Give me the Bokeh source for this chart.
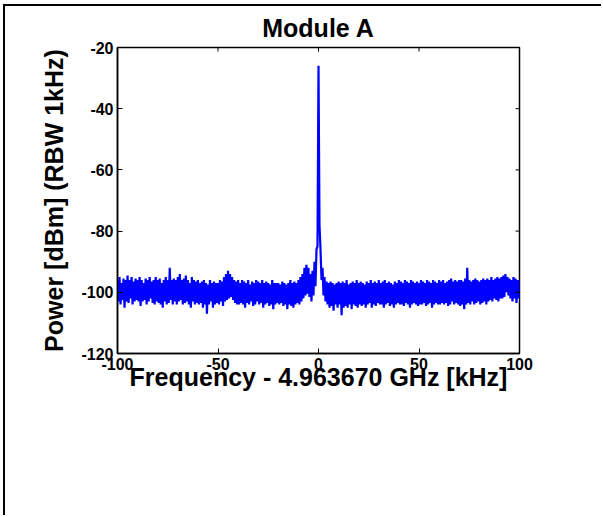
import math
from bokeh.plotting import figure
from bokeh.models import FixedTicker, Range1d, ColumnDataSource
from bokeh.embed import file_html
from bokeh.resources import INLINE

title_text = "Module A"
x_label = "Frequency - 4.963670 GHz [kHz]"
y_label = "Power [dBm] (RBW 1kHz)"
x_ticks = [-100, -50, 0, 50, 100]
y_ticks = [-120, -100, -80, -60, -40, -20]
x_tick_labels = ["-100", "-50", "0", "50", "100"]
y_tick_labels = ["-120", "-100", "-80", "-60", "-40", "-20"]
x_min, x_max = -100, 100
y_min, y_max = -120, -20

# frequency offsets in kHz (one sample per kHz, upper and lower envelope of the trace)
freq_khz = list(range(-100, 101))

power_hi = (
    [-96, -95, -97, -95.5, -96, -94.5, -96, -95, -96.5, -95.5]
    + [-96, -95, -96, -97, -95.5, -96, -95, -96.5, -96, -95]
    + [-96, -95.5, -97, -96, -95, -96, -92, -96, -95.5, -96]
    + [-95, -94, -96, -95.5, -94.5, -96, -97, -95, -96, -96.5]
    + [-96, -97, -96.5, -96, -97, -97.5, -96, -97, -96.5, -97]
    + [-97, -96, -96.5, -95, -94, -93, -94, -95, -96, -96.5]
    + [-96, -97, -96, -96.5, -97, -96, -97.5, -96.5, -97, -96]
    + [-96.5, -97, -96, -97, -96.5, -97, -97.5, -96, -97, -97]
    + [-97, -97.5, -96.5, -97, -97.5, -97, -96, -97, -96.5, -97]
    + [-96, -95, -94, -92, -91, -92, -94, -93, -90, -86]
    + [-26]
    + [-86, -92, -95, -96.5, -97, -96.5, -97, -97.5, -97, -96.5]
    + [-97, -96.5, -97, -96, -97.5, -97, -96.5, -97, -96, -97]
    + [-96.5, -97, -97.5, -96.5, -97, -96, -97, -96.5, -97, -96]
    + [-97, -96.5, -96, -97, -96.5, -97, -97.5, -96.5, -97, -96]
    + [-96.5, -97, -96, -96.5, -97, -96, -96.5, -97, -96.5, -97]
    + [-96, -96.5, -97, -96, -96.5, -97, -96, -96.5, -97, -96]
    + [-96.5, -96, -97, -96.5, -96, -95.5, -96.5, -96, -96.5, -96]
    + [-96, -96.5, -95.5, -92, -96, -96.5, -96, -95.5, -96, -96.5]
    + [-96, -95.5, -96, -95.5, -96, -95, -96, -95.5, -95, -95.5]
    + [-95, -94.5, -94, -95, -95.5, -96, -95, -95.5, -96, -96]
)

power_lo = (
    [-103, -104, -102.5, -105, -103, -103.5, -102, -104, -103, -102.5]
    + [-103, -104.5, -103, -102.5, -104, -103, -102, -103.5, -104, -103]
    + [-103.5, -104, -105, -103, -104, -103.5, -102.5, -104, -103, -104]
    + [-103, -102.5, -104, -103.5, -103, -104, -105, -103, -104, -103.5]
    + [-104, -103.5, -105, -104, -107, -104, -103, -105, -104, -103.5]
    + [-104, -103, -104.5, -103, -102.5, -102, -101.5, -102.5, -103.5, -104]
    + [-104, -103.5, -104, -105, -103.5, -104, -103, -104.5, -104, -103]
    + [-104, -103.5, -105, -104, -103.5, -104.5, -104, -105.5, -104, -103.5]
    + [-104, -103.5, -104.5, -104, -105.5, -104, -104.5, -105, -104, -103.5]
    + [-104, -103, -102, -101, -100.5, -101.5, -103, -101, -98, -85]
    + [-78]
    + [-96, -101, -103, -104, -105, -104.5, -106, -104, -105, -104]
    + [-107.5, -105, -104.5, -105, -104, -105.5, -104, -104.5, -105, -104]
    + [-104.5, -104, -105, -104, -103.5, -105, -104, -104.5, -103.5, -104]
    + [-104, -105, -104, -103.5, -104.5, -104, -105, -104, -103.5, -104]
    + [-104, -104.5, -103.5, -104, -105, -104, -103.5, -104, -104.5, -104]
    + [-104, -103.5, -104.5, -104, -103.5, -105, -104, -103.5, -104, -104]
    + [-103.5, -104, -103.5, -104.5, -104, -103, -104, -103.5, -104, -104.5]
    + [-104, -105.5, -104, -103.5, -104, -103, -104, -103.5, -103, -104]
    + [-103.5, -103, -104, -103, -102.5, -103, -102, -102.5, -103, -102]
    + [-102, -101.5, -100, -101, -102, -103, -102, -103.5, -102, -103]
)

# build the trace: upper value at f, lower value half a kHz later
xs, ys = [], []
for f, hi, lo in zip(freq_khz, power_hi, power_lo):
    xs.extend([f, f + 0.5])
    ys.extend([hi, lo])
src = ColumnDataSource(dict(x=xs, y=ys))

FONT = "Liberation Sans"

p = figure(
    width=598, height=511,
    x_range=Range1d(x_min, x_max), y_range=Range1d(y_min, y_max),
    output_backend="svg", toolbar_location=None,
    min_border_left=112, min_border_right=84,
    min_border_top=41, min_border_bottom=164,
)
p.styles = {
    "margin-left": "3px", "margin-top": "4px",
    "border-left": "2px solid black", "border-top": "2px solid black",
}
p.background_fill_color = "white"
p.border_fill_color = "white"
p.outline_line_color = "black"
p.outline_line_width = 1.5
p.xgrid.visible = False
p.ygrid.visible = False

p.line("x", "y", source=src, line_color="#0000FF", line_width=2.2)

# inward tick marks on the top and right edges of the box (outer half falls outside the frame)
p.scatter(x=x_ticks, y=[y_max] * len(x_ticks), marker="dash", angle=math.pi / 2,
          size=8, line_color="black", line_width=1)
p.scatter(x=[x_max] * len(y_ticks), y=y_ticks, marker="dash",
          size=8, line_color="black", line_width=1)

p.title.text = title_text
p.title.align = "center"
p.title.text_font = FONT
p.title.text_font_size = "25px"
p.title.text_font_style = "bold"
p.title.text_color = "black"
p.title.standoff = 11

for ax, ticks, labels in ((p.xaxis[0], x_ticks, x_tick_labels), (p.yaxis[0], y_ticks, y_tick_labels)):
    ax.ticker = FixedTicker(ticks=ticks)
    ax.major_label_overrides = dict(zip(ticks, labels))
    ax.major_tick_in = 5
    ax.major_tick_out = 0
    ax.minor_tick_in = 0
    ax.minor_tick_out = 0
    ax.axis_line_width = 1.5
    ax.major_tick_line_width = 1
    ax.major_label_text_font = FONT
    ax.major_label_text_font_style = "bold"
    ax.major_label_text_font_size = "16px"
    ax.major_label_text_color = "black"
    ax.axis_label_text_font = FONT
    ax.axis_label_text_font_style = "bold"
    ax.axis_label_text_font_size = "25px"
    ax.axis_label_text_color = "black"

p.xaxis[0].axis_label = x_label
p.xaxis[0].major_label_standoff = 4
p.xaxis[0].axis_label_standoff = -10
p.yaxis[0].axis_label = y_label
p.yaxis[0].major_label_standoff = 4
p.yaxis[0].axis_label_standoff = 10

open("out.html", "w").write(file_html(p, INLINE))
